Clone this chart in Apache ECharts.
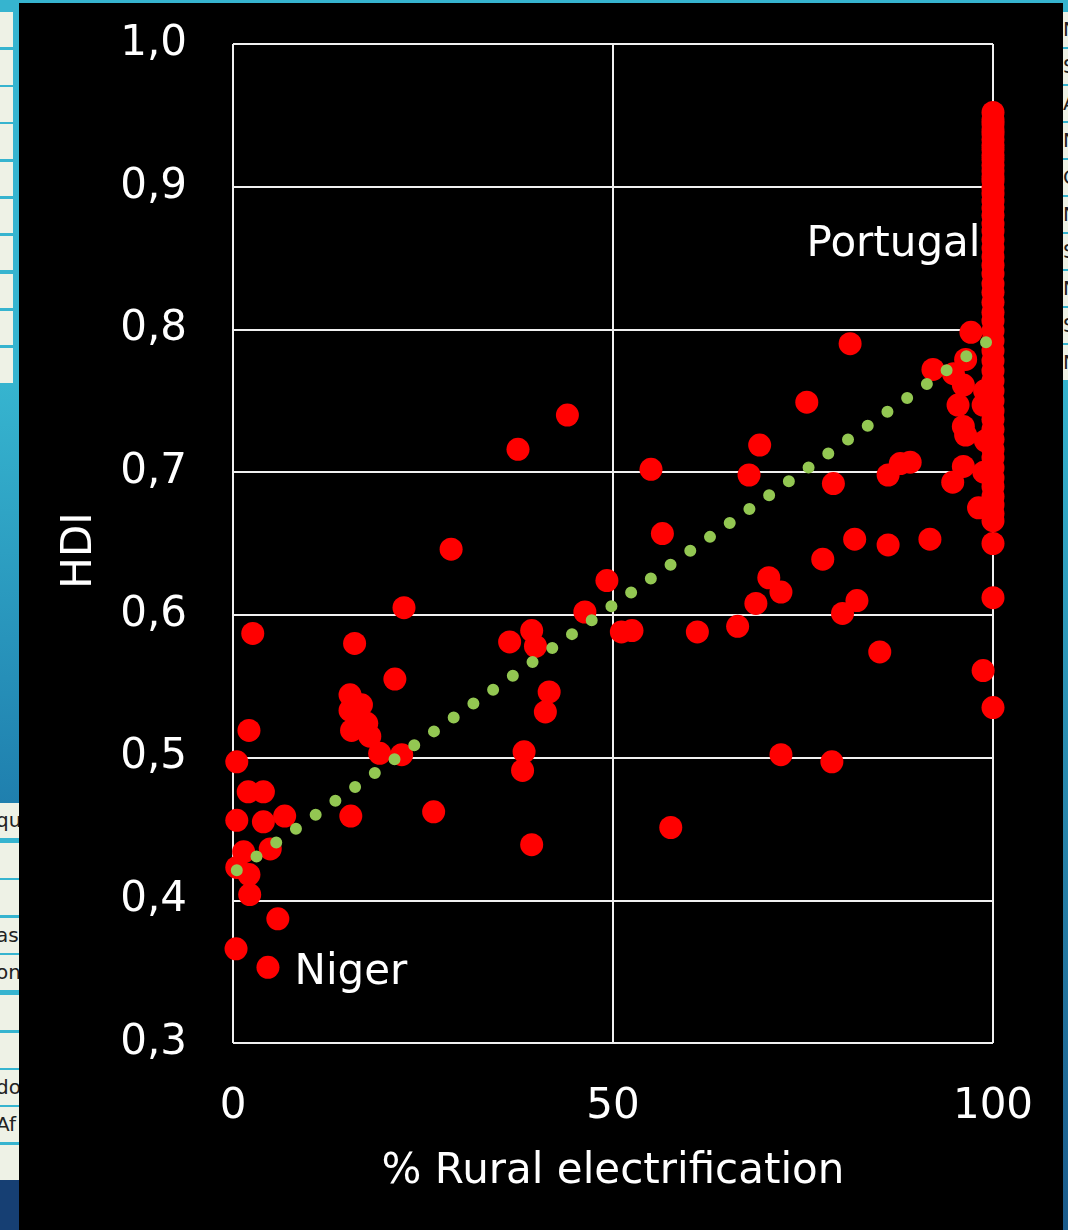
<!DOCTYPE html>
<html>
<head>
<meta charset="utf-8">
<script src="https://cdn.jsdelivr.net/npm/echarts@6/dist/echarts.min.js"></script>
<style>
  html, body { margin:0; padding:0; width:1068px; height:1230px; overflow:hidden; background:#36b4cf; }
  #bg { position:absolute; left:19px; top:3px; width:1044px; height:1227px; background:#000; }
  .cell { position:absolute; background:#eef2e6; font-family:"DejaVu Sans",sans-serif; font-size:20px; color:#222; overflow:hidden; white-space:nowrap; }
  #chart { position:absolute; left:0; top:0; width:1068px; height:1230px; }
</style>
</head>
<body>
<div id="lowblue" style="position:absolute;left:0;top:385px;width:19px;height:420px;background:linear-gradient(#36b4cf,#1f7fae);"></div>
<div style="position:absolute;left:0;top:1175px;width:19px;height:55px;background:#163f73;"></div>
<div style="position:absolute;left:1063px;top:380px;width:5px;height:850px;background:linear-gradient(#36b4cf,#1a5a8a);"></div>
<div id="cells"></div>
<div id="bg"></div>
<div id="chart"></div>
<script>
// ---- data ----
const xTicks = [0, 50, 100];
const yTicks = ['0,3','0,4','0,5','0,6','0,7','0,8','0,9','1,0'];
const countries = [
  [0.4,0.366],[4.6,0.353],[5.9,0.387],[2.2,0.404],[2.1,0.418],[0.5,0.423],[1.4,0.434],[4.9,0.436],
  [0.5,0.456],[4.0,0.455],[6.8,0.459],[2.0,0.476],[4.0,0.476],[0.5,0.497],[2.1,0.519],[2.6,0.587],
  [15.5,0.459],[26.4,0.462],[19.3,0.503],[22.2,0.502],[18.0,0.515],[15.6,0.519],[17.6,0.524],[15.4,0.533],
  [16.9,0.537],[15.4,0.544],[21.3,0.555],[16.0,0.580],[22.5,0.605],[28.7,0.646],[37.5,0.716],[44.0,0.740],
  [36.4,0.581],[39.3,0.589],[39.8,0.578],[41.6,0.546],[41.1,0.532],[38.3,0.504],[38.1,0.491],[39.3,0.439],
  [46.3,0.602],[49.2,0.624],[51.1,0.588],[52.5,0.589],[57.6,0.451],[55.0,0.702],[56.5,0.657],[61.1,0.588],
  [66.4,0.592],[68.8,0.608],[70.5,0.626],[72.1,0.616],[67.9,0.698],[69.3,0.719],[75.5,0.749],[72.1,0.502],
  [78.8,0.497],[77.6,0.639],[79.0,0.692],[81.2,0.790],[80.2,0.601],[82.1,0.610],[81.8,0.653],[85.1,0.574],
  [86.2,0.649],[86.2,0.698],[87.8,0.706],[89.1,0.707],[91.7,0.653],[92.1,0.772],[94.7,0.693],[96.1,0.704],
  [94.8,0.769],[96.4,0.779],[97.1,0.798],[96.1,0.761],[95.4,0.747],[96.1,0.732],[96.4,0.726],[98.7,0.747],
  [98.1,0.675],[98.7,0.561],[100,0.650],[100,0.612],[100,0.535],[98.9,0.757],[99.0,0.722],[98.8,0.700]
];
const fullyElectrified = [
  0.952,0.947,0.944,0.940,0.937,0.933,0.929,0.926,0.922,0.919,0.915,0.911,0.907,0.904,0.899,
  0.895,0.890,0.885,0.880,0.874,0.869,0.863,0.857,0.851,0.845,0.839,0.832,0.826,0.819,0.812,
  0.806,0.799,0.792,0.785,0.778,0.771,0.764,0.757,0.750,0.743,0.737,0.730,0.723,0.716,0.710,
  0.703,0.696,0.690,0.683,0.677,0.671,0.666
];
const trend = [[0.5,0.421],[99.1,0.791]];
const labels = [
  {name:'Portugal', value:[100,0.859], pos:'left'},
  {name:'Niger', value:[4.6,0.349], pos:'right'}
];

// ---- decorative side strips ----
const cellsDiv = document.getElementById('cells');
const leftRowsTop = [[12,35],[50,35],[87,35],[124,35],[162,34],[199,34],[236,34],[274,34],[311,34],[348,35]];
leftRowsTop.forEach(r => { const d=document.createElement('div'); d.className='cell'; d.style.cssText=`left:0;top:${r[0]}px;width:13px;height:${r[1]}px`; cellsDiv.appendChild(d); });
const leftRowsLow = [[803,'qu'],[843,''],[880,''],[918,'as'],[955,'on'],[995,''],[1033,''],[1070,'do'],[1107,'Af'],[1145,'']];
leftRowsLow.forEach(r => { const d=document.createElement('div'); d.className='cell'; d.style.cssText=`left:0;top:${r[0]}px;width:19px;height:35px;line-height:35px;text-indent:-4px`; d.textContent=r[1]; cellsDiv.appendChild(d); });
const rightRows = ['N','S','A','N','C','N','S','N','S','N'];
rightRows.forEach((t,i) => { const d=document.createElement('div'); d.className='cell'; d.style.cssText=`left:1063px;top:${12+i*37}px;width:5px;height:35px;line-height:35px`; d.textContent=t; cellsDiv.appendChild(d); });

// ---- chart ----
const chart = echarts.init(document.getElementById('chart'));
const FONT = '"DejaVu Sans", sans-serif';
const gridLine = {show:true, lineStyle:{color:'#f0f0f0', width:2}};
chart.setOption({
  backgroundColor:'transparent',
  animation:false,
  grid:{left:233, right:75, top:44, bottom:187, containLabel:false},
  xAxis:{
    type:'value', min:0, max:100, interval:50,
    axisLine:{show:false}, axisTick:{show:false}, splitLine:gridLine,
    axisLabel:{color:'#fff', fontFamily:FONT, fontSize:42, margin:43,
      formatter:v => xTicks.includes(v) ? String(v) : ''},
    name:'% Rural electrification', nameLocation:'middle', nameGap:108,
    nameTextStyle:{color:'#fff', fontFamily:FONT, fontSize:42}
  },
  yAxis:{
    type:'value', min:0.3, max:1.0, interval:0.1,
    axisLine:{show:false}, axisTick:{show:false}, splitLine:gridLine,
    axisLabel:{color:'#fff', fontFamily:FONT, fontSize:42, margin:46,
      formatter:v => yTicks[Math.round((v-0.3)*10)]},
    name:'HDI', nameLocation:'middle', nameGap:132,
    nameTextStyle:{color:'#fff', fontFamily:FONT, fontSize:42, padding:[0,14,0,0]}
  },
  series:[
    {type:'scatter', symbolSize:23, itemStyle:{color:'#ff0000', opacity:1},
      data: countries.concat(fullyElectrified.map(v => [100, v])), z:2},
    {type:'line', data:trend, symbol:'none', z:3, silent:true,
      lineStyle:{color:'#93c752', width:12, type:[0,24.12], cap:'round', opacity:1}},
    {type:'scatter', symbolSize:1, itemStyle:{color:'rgba(0,0,0,0)', opacity:1}, z:4, silent:true,
      data: labels.map(l => ({name:l.name, value:l.value,
        label:{show:true, position:l.pos, distance:l.pos==='left'?12:26, formatter:'{b}',
          color:'#ffffff', opacity:1, fontFamily:FONT, fontSize:42}}))}
  ]
});
</script>
</body>
</html>
